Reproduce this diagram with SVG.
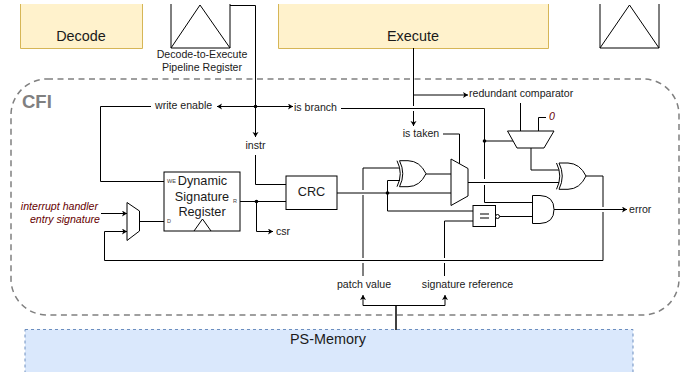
<svg xmlns="http://www.w3.org/2000/svg" width="694" height="372" viewBox="0 0 694 372">
<style>
text{font-family:"Liberation Sans",Arial,sans-serif;fill:#1a1a1a}
.t{font-size:10.6px;text-anchor:middle}
.s{font-size:10.6px}
.r{font-size:10.6px;font-style:italic;fill:#660000;text-anchor:end}
.b{font-size:14.4px;text-anchor:middle}
.d{font-size:12.700px;text-anchor:middle}
.p{font-size:5.5px;fill:#444}
.stage{fill:#fff2cc;stroke:#d6b656;stroke-width:1}
.sh{fill:#fff;stroke:#000;stroke-width:1}
.w{fill:none;stroke:#000;stroke-width:1}
.a{marker-end:url(#arr)}
</style>
<defs>
<marker id="arr" markerUnits="userSpaceOnUse" markerWidth="8" markerHeight="8" refX="5" refY="3" orient="auto"><path d="M0 0L5 3L0 6L1.3 3Z" fill="#000"/></marker>
</defs>
<g id="cfi">
<rect x="11" y="79" width="668" height="236" rx="36" fill="none" stroke="#808080" stroke-width="1.5" stroke-dasharray="6 4.5"/>
<text x="22" y="108" style="font-size:18.500px;font-weight:bold;fill:#808080">CFI</text>
</g>
<g id="decode"><path class="stage" d="M20.5 4V48.5H142.5V4"/><text class="b" x="81" y="41">Decode</text></g>
<g id="execute"><path class="stage" d="M278.5 4V48.5H548.5V4"/><text class="b" x="413" y="41">Execute</text></g>
<g id="pipeline1"><path class="sh" d="M171 4V48H230V4M171 48L200 5L230 48"/>
<text class="t" x="202" y="58">Decode-to-Execute</text><text class="t" x="202" y="71">Pipeline Register</text></g>
<g id="pipeline2"><path class="sh" d="M600 4V48H659V4M600 48L629.5 5L659 48"/></g>
<g id="ps-memory"><rect x="25" y="329.500" width="608" height="50" fill="#dae8fc" stroke="#6c8ebf" stroke-width="1" stroke-dasharray="3 3"/><text class="b" x="328" y="344">PS-Memory</text></g>
<g id="connectors">
<path class="w" d="M230 5.500H255.500V137" marker-end="url(#arr)"/>
<path class="w a" d="M255.500 106.500H217"/>
<path class="w a" d="M255.500 106.500H293"/>
<path class="w" d="M151 106.500H100.500V181.500H164"/>
<path class="w" d="M341 108.500H484.500V179M484.500 185V202.500H532.500"/>
<path class="w" d="M484.500 141H513"/>
<path class="w" d="M413.500 48V106M413.500 111V126" marker-end="url(#arr)"/>
<path class="w a" d="M413.500 95H468"/>
<path class="w" d="M443 134H459.500V164"/>
<path class="w" d="M520.500 103V131M538.500 131V117.500H546M531 148V170H559"/>
<path class="w" d="M255.500 155V184.500H286"/>
<path class="w" d="M240 201.500H286"/>
<path class="w a" d="M256.500 201.500V231.500H273"/>
<path class="w" d="M139.500 221.500H164"/>
<path class="w a" d="M101 213.500H127"/>
<path class="w a" d="M104.500 260.500V231.500H127"/>
<path class="w" d="M104.500 260.500H603V212M603 207V176H586"/>
<path class="w" d="M337 193H451"/>
<path class="w" d="M387.500 193V180.500H400M387.500 193V211H473"/>
<path class="w" d="M363 276V263M363 258V195M363 190V168H399"/>
<path class="w" d="M444.500 276V263M444.500 258V221H473"/>
<path class="w" d="M426 174H451"/>
<path class="w" d="M468 182.500H559"/>
<path class="w" d="M499.500 216.500H532.500"/>
<path class="w a" d="M554 209.500H627"/>
<path class="w a" d="M396 305.500H363V295"/>
<path class="w a" d="M396 305.500H445V295"/>
<path d="M396 305V330" fill="none" stroke="#000" stroke-width="1.500"/>
<g fill="#000"><circle cx="255.500" cy="106.500" r="1.800"/><circle cx="484.500" cy="141" r="1.800"/><circle cx="256.500" cy="201.500" r="1.800"/><circle cx="387.500" cy="193" r="1.800"/></g>
</g>
<g id="dsr"><rect class="sh" x="164" y="172" width="76" height="59"/><path class="w" d="M194 231L202.500 219L211 231"/>
<text class="d" x="202.500" y="185">Dynamic</text><text class="d" x="202" y="200.500">Signature</text><text class="d" x="202" y="216">Register</text>
<text class="p" x="167" y="182.500">WE</text><text class="p" x="167" y="223">D</text><text class="p" x="233" y="202.500">R</text></g>
<g id="crc"><rect class="sh" x="286" y="176" width="51" height="33.500"/><text class="d" x="311.500" y="196">CRC</text></g>
<g id="mux-in"><path class="sh" d="M127 202.500L139.500 211V231L127 240.500Z"/>
<text class="r" x="98" y="210">interrupt handler</text><text class="r" x="100" y="223">entry signature</text></g>
<g id="xor1"><path class="sh" d="M399.500 160.700H408Q420 161 426 173.700Q420 186.500 408 186.700H399.500Q406 173.700 399.500 160.700Z"/><path class="w" d="M397 160.700Q403.500 173.700 397 186.700"/></g>
<g id="mux-taken"><path class="sh" d="M451 159L468 168.500V196L451 205.500Z"/></g>
<g id="mux-cmp"><path class="sh" d="M507.500 131H554L544 148H517Z"/></g>
<g id="xor2"><path class="sh" d="M559 163H568Q580 163.500 586 176Q580 189 568 189.300H559Q565.500 176 559 163Z"/><path class="w" d="M556.500 163Q563 176 556.500 189.300"/></g>
<g id="and"><path class="sh" d="M532.500 195.500H540Q554 196 554 209.500Q554 223 540 223.500H532.500Z"/></g>
<g id="eq"><rect class="sh" x="473" y="205.500" width="22.500" height="21"/><path d="M480 214H489M480 218H489" stroke="#555" stroke-width="1.300"/><circle class="sh" cx="497.500" cy="216.500" r="2"/></g>
<g id="labels">
<text class="s" x="155" y="109">write enable</text>
<text class="s" x="294" y="111">is branch</text>
<text class="t" x="255.500" y="149">instr</text>
<text class="s" x="276" y="235">csr</text>
<text class="s" x="469" y="97">redundant comparator</text>
<text class="t" x="421" y="137">is taken</text>
<text x="549" y="119.500" style="font-size:10.600px;font-style:italic;fill:#660000">0</text>
<text class="s" x="629" y="213">error</text>
<text class="t" x="364" y="288">patch value</text>
<text class="t" x="467.500" y="288">signature reference</text>
</g>
</svg>
